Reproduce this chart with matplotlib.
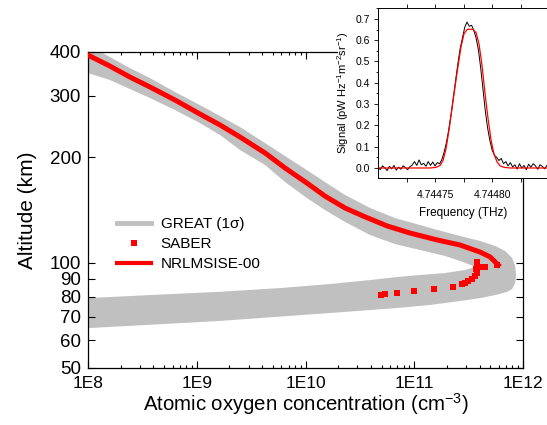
import numpy as np
import matplotlib
matplotlib.use("Agg")
import matplotlib.pyplot as plt
from matplotlib.lines import Line2D
from matplotlib.patches import Rectangle

plt.rcParams['font.family'] = ['Liberation Sans', 'DejaVu Sans']
plt.rcParams['mathtext.default'] = 'regular'

# NRLMSISE-00 profile (altitude km, O concentration cm^-3)
msis_alt = [392, 364.6, 339.2, 317.6, 291.6, 265.9, 247.4, 228.6, 205.8, 186.4,
            168.9, 155.0, 143.3, 135.9, 127.3, 121.5, 116.1, 112.3, 107.2, 103.8, 98.5]
msis_conc = [1.0e8, 1.59e8, 2.43e8, 3.72e8, 6.31e8, 1.07e9, 1.64e9, 2.50e9, 4.25e9,
             6.49e9, 1.03e10, 1.51e10, 2.31e10, 3.39e10, 5.64e10, 9.16e10, 1.63e11,
             2.64e11, 4.04e11, 4.99e11, 5.92e11]

# SABER points
saber_alt = [80.7, 81.5, 82.1, 83.0, 83.9, 85.2, 86.7, 87.6, 88.6, 90.0, 91.6,
             93.6, 95.7, 98.3, 100.4, 97.2, 97.2, 98.6]
saber_conc = [4.9e10, 5.4e10, 6.9e10, 1.0e11, 1.52e11, 2.29e11, 2.74e11, 2.94e11,
              3.15e11, 3.39e11, 3.63e11, 3.77e11, 3.71e11, 3.77e11, 3.77e11,
              4.19e11, 4.49e11, 5.75e11]

# GREAT 1-sigma envelope
# outer edge: lower branch bottom -> nose -> upper branch top
great_out_alt = [62.0, 65.0, 68.1, 71.8, 74.2, 75.7, 77.7, 79.2, 80.8, 82.5, 84.1,
                 87.5, 92.2, 97.8, 103.1, 108.0, 111.6, 115.3, 119.2, 124.0, 128.1,
                 134.1, 143.3, 156.1, 170.0, 183.9, 201.7, 219.7, 244.1, 262.4,
                 282.1, 307.4, 336.9, 359.8, 386.9, 418.7, 460]
great_out_conc = [1e7, 1.0e8, 1.57e9, 1.68e10, 6.96e10, 1.40e11, 2.64e11, 4.04e11,
                  5.55e11, 7.16e11, 7.96e11, 8.47e11, 8.65e11, 8.47e11, 7.96e11,
                  6.86e11, 5.55e11, 4.04e11, 2.64e11, 1.63e11, 1.13e11, 6.67e10,
                  3.93e10, 2.31e10, 1.51e10, 1.03e10, 6.49e9, 4.25e9, 2.50e9,
                  1.64e9, 1.07e9, 6.31e8, 3.72e8, 2.43e8, 1.59e8, 1.0e8, 5e7]
# inner edge: upper branch top -> inner tip -> lower branch top
great_in_alt = [400, 348.2, 332.6, 313.5, 295.4, 273.0, 250.6, 231.6, 209.8, 190.1,
                170.0, 153.0, 141.4, 130.7, 119.9, 113.0, 108.7, 104.5, 100.4, 97.2,
                95.3, 93.4, 92.2, 91.0, 89.2, 86.9, 84.6, 82.5, 80.8, 79.2, 76.5]
great_in_conc = [3.5e7, 1.0e8, 1.59e8, 2.43e8, 3.72e8, 6.31e8, 1.07e9, 1.64e9,
                 2.50e9, 4.25e9, 6.49e9, 1.03e10, 1.51e10, 2.31e10, 3.93e10,
                 6.67e10, 1.13e11, 1.92e11, 2.82e11, 3.63e11, 2.94e11, 1.92e11,
                 1.13e11, 6.96e10, 3.93e10, 1.68e10, 5.83e9, 1.57e9, 3.72e8,
                 1.0e8, 1e7]

x_ticks = [1e8, 1e9, 1e10, 1e11, 1e12]
x_labels = ['1E8', '1E9', '1E10', '1E11', '1E12']
y_ticks = [50, 60, 70, 80, 90, 100, 200, 300, 400]

# inset spectrum: frequency offsets (MHz) from 4.74470 THz
f0 = 4.74470
meas_off = list(range(0, 152, 2))
meas_sig = [0.005, -0.008, 0.010, 0.000, -0.012, 0.008, -0.004, 0.012, -0.010, 0.004,
            -0.006, 0.010, 0.002, -0.008, 0.006, 0.014, 0.030, 0.012, 0.038, 0.015,
            0.022, 0.008, 0.030, 0.012, 0.028, 0.010, 0.025, 0.020, 0.040, 0.075,
            0.120, 0.180, 0.250, 0.330, 0.410, 0.490, 0.560, 0.610, 0.660, 0.685,
            0.665, 0.670, 0.645, 0.610, 0.555, 0.470, 0.370, 0.270, 0.190, 0.130,
            0.085, 0.060, 0.050, 0.035, 0.045, 0.020, 0.030, 0.010, 0.025, 0.005,
            0.015, -0.005, 0.020, 0.000, 0.012, -0.008, 0.018, 0.004, 0.020, 0.010,
            -0.006, 0.015, 0.008, -0.004, 0.012, 0.002]
fit_off = [0, 45.6, 50.9, 54.4, 57.0, 59.6, 62.3, 64.9, 67.5, 70.2, 72.8, 75.4, 78.1,
           80.7, 83.3, 86.0, 88.6, 91.2, 93.8, 96.5, 99.1, 101.7, 104.4, 107.0,
           110.5, 115.8, 150]
fit_sig = [0.0, 0.0, 0.003, 0.012, 0.035, 0.09, 0.18, 0.28, 0.38, 0.48, 0.57, 0.63,
           0.65, 0.652, 0.65, 0.635, 0.58, 0.48, 0.35, 0.23, 0.13, 0.065, 0.028,
           0.01, 0.003, 0.0, 0.0]

gray = '#c0c0c0'

fig = plt.figure(figsize=(5.47, 4.25), dpi=100)
ax = fig.add_axes([88 / 547, 57 / 425, 435 / 547, 316 / 425])

band_x = list(great_out_conc) + list(great_in_conc)
band_y = list(great_out_alt) + list(great_in_alt)
ax.fill(band_x, band_y, color=gray, lw=0, zorder=1)
ax.plot(msis_conc, msis_alt, color='red', lw=3.6, zorder=3)
ax.plot(saber_conc, saber_alt, 's', color='red', ms=4.3, mew=0, zorder=4)

ax.set_xscale('log')
ax.set_yscale('log')
ax.set_xlim(1e8, 1e12)
ax.set_ylim(50, 400)
ax.set_xticks(x_ticks, x_labels)
ax.set_yticks(y_ticks, [str(v) for v in y_ticks])
ax.yaxis.set_minor_locator(matplotlib.ticker.NullLocator())
ax.tick_params(which='both', direction='in', top=True, right=True,
               width=0.8, pad=5)
ax.tick_params(axis='x', labelsize=12.5, pad=5.5)
ax.tick_params(axis='y', labelsize=13.5)
ax.tick_params(which='major', length=5)
ax.tick_params(which='minor', length=2.5)
for s in ax.spines.values():
    s.set_linewidth(0.9)
ax.set_xlabel('Atomic oxygen concentration (cm$^{-3}$)', fontsize=14.7, labelpad=0)
ax.set_ylabel('Altitude (km)', fontsize=15, labelpad=9)

handles = [Line2D([], [], color=gray, lw=3.5),
           Line2D([], [], color='red', marker='s', ls='none', ms=5, mew=0),
           Line2D([], [], color='red', lw=3)]
ax.legend(handles, ['GREAT (1σ)', 'SABER', 'NRLMSISE-00'], loc='upper left',
          bbox_to_anchor=(0.067, 0.478), frameon=False, fontsize=11,
          borderpad=0, borderaxespad=0, handlelength=2.2, handletextpad=0.65,
          labelspacing=0.4)

# white patch behind the inset
fig.add_artist(Rectangle((338 / 547, (425 - 179) / 425), 1, 1, transform=fig.transFigure,
                         facecolor='white', edgecolor='none', zorder=1))

ins = fig.add_axes([378 / 547, (425 - 178) / 425, 170 / 547, 170 / 425], zorder=2)
ins.plot([f0 + o * 1e-6 for o in meas_off], meas_sig, color='black', lw=0.7)
ins.plot([f0 + o * 1e-6 for o in fit_off], fit_sig, color='red', lw=0.9)
ins.set_xlim(4.74470, 4.744849)
ins.set_ylim(-0.047, 0.751)
ins.set_xticks([4.744725, 4.74475, 4.744775, 4.74480, 4.744825],
               ['', '4.74475', '', '4.74480', ''])
ins.set_yticks([0, 0.1, 0.2, 0.3, 0.4, 0.5, 0.6, 0.7],
               ['0.0', '0.1', '0.2', '0.3', '0.4', '0.5', '0.6', '0.7'])
ins.yaxis.set_minor_locator(matplotlib.ticker.MultipleLocator(0.05))
ins.tick_params(which='both', top=True, right=True, labelsize=7.5, width=0.6)
ins.tick_params(axis='x', pad=6)
ins.tick_params(axis='y', pad=3)
ins.tick_params(which='major', length=3)
ins.tick_params(which='minor', length=1.5)
for s in ins.spines.values():
    s.set_linewidth(0.7)
ins.set_xlabel('Frequency (THz)', fontsize=8.5, labelpad=5)
ins.set_ylabel('Signal (pW Hz$^{-1}$m$^{-2}$sr$^{-1}$)', fontsize=8, labelpad=3)

fig.savefig('out.png', dpi=100)
